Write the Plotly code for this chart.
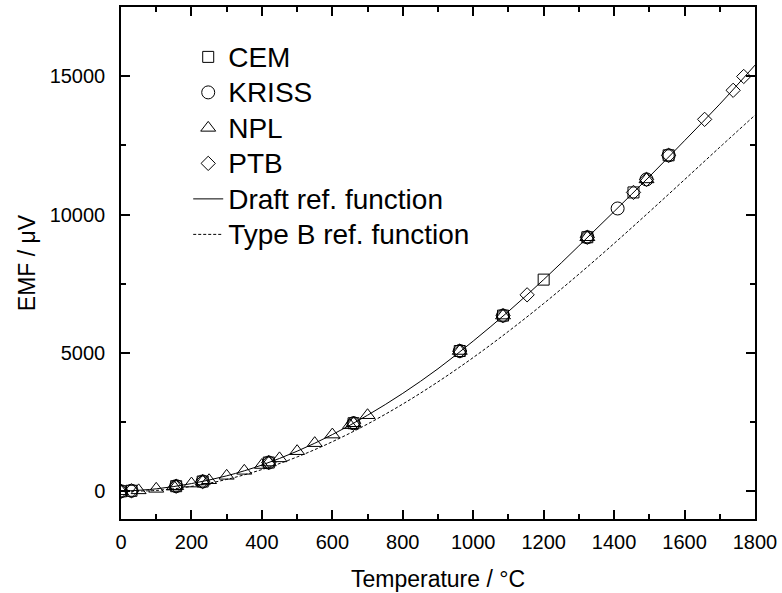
import plotly.graph_objects as go

# ---- data ----
cem_t = [0, 29.76, 156.6, 231.9, 419.5, 660.3, 961.8, 1084.6, 1200, 1324, 1455, 1554.8]
cem_v = [0, 20, 185, 355, 1040, 2460, 5070, 6350, 7650, 9180, 10800, 12140]

kriss_t = [0, 29.76, 156.6, 231.9, 419.5, 660.3, 961.8, 1084.6, 1324, 1410, 1492, 1554.8]
kriss_v = [0, 20, 185, 355, 1040, 2460, 5070, 6350, 9180, 10220, 11270, 12140]

npl_t = [0, 50, 100, 150, 156.6, 200, 231.9, 250, 300, 350, 400, 419.5, 450, 500, 550,
         600, 650, 660.3, 700, 961.8, 1084.6, 1324, 1492]
npl_v = [0, 35, 90, 170, 185, 280, 355, 400, 560, 740, 950, 1040, 1190, 1450, 1740,
         2050, 2390, 2460, 2750, 5070, 6350, 9180, 11270]

ptb_t = [0, 29.76, 156.6, 231.9, 419.5, 660.3, 961.8, 1084.6, 1153, 1324, 1455, 1492,
         1554.8, 1657, 1738, 1768]
ptb_v = [0, 20, 185, 355, 1040, 2460, 5070, 6350, 7100, 9180, 10800, 11270,
         12140, 13440, 14490, 14990]

ref_t = [0, 100, 200, 300, 400, 500, 600, 700, 800, 900, 1000, 1100, 1200, 1300,
         1400, 1500, 1600, 1700, 1800]
draft_v = [0, 90, 280, 560, 950, 1450, 2050, 2750, 3540, 4430, 5430, 6500, 7650, 8870,
           10110, 11370, 12670, 13990, 15400]
typeb_v = [0, 33, 178, 431, 787, 1242, 1792, 2431, 3154, 3957, 4834, 5780, 6786, 7848,
           8956, 10099, 11263, 12433, 13591]

x_ticks = [0, 200, 400, 600, 800, 1000, 1200, 1400, 1600, 1800]
y_ticks = [0, 5000, 10000, 15000]

FONT = "Arial, Liberation Sans, sans-serif"
LEG_TXT = '<span style="font-size:28px">{}</span>'

fig = go.Figure()

def add_markers(name, t, v, symbol, size):
    fig.add_trace(go.Scatter(
        x=t, y=v, mode="markers", name=LEG_TXT.format(name),
        marker=dict(symbol=symbol, size=size, color="black",
                    line=dict(color="black", width=1)),
    ))

add_markers("CEM", cem_t, cem_v, "square-open", 11)
add_markers("KRISS", kriss_t, kriss_v, "circle-open", 13)
add_markers("NPL", npl_t, npl_v, "triangle-up-open", 13)
add_markers("PTB", ptb_t, ptb_v, "diamond-open", 11)

fig.add_trace(go.Scatter(x=ref_t, y=draft_v, mode="lines",
                         name=LEG_TXT.format("Draft ref. function"),
                         line=dict(color="black", width=1, shape="spline")))
fig.add_trace(go.Scatter(x=ref_t, y=typeb_v, mode="lines",
                         name=LEG_TXT.format("Type B ref. function"),
                         line=dict(color="black", width=1, dash="3px,2px", shape="spline")))

axis_common = dict(
    showline=True, linecolor="black", linewidth=1.5, mirror="allticks",
    ticks="inside", ticklen=9, tickwidth=1.5, tickcolor="black",
    showgrid=False, zeroline=False,
    tickfont=dict(family=FONT, size=20, color="black"),
    ticklabeloverflow="allow",
)

fig.update_xaxes(
    range=[0, 1800], tickvals=x_ticks, ticktext=[str(v) for v in x_ticks],
    minor=dict(dtick=100, tick0=0, ticks="inside", ticklen=5, tickwidth=1.5, tickcolor="black"),
    title=dict(text="Temperature / °C", font=dict(family=FONT, size=23, color="black"), standoff=19),
    ticklabelstandoff=4,
    **axis_common,
)
fig.update_yaxes(
    range=[-1000, 17500], tickvals=y_ticks, ticktext=[str(v) for v in y_ticks],
    minor=dict(dtick=2500, tick0=0, ticks="inside", ticklen=5, tickwidth=1.5, tickcolor="black"),
    title=dict(text="EMF / μV", font=dict(family=FONT, size=23, color="black"), standoff=8),
    ticklabelstandoff=10,
    **axis_common,
)

fig.update_layout(
    width=782, height=593,
    margin=dict(l=121, r=27, t=7, b=74, autoexpand=False),
    paper_bgcolor="white", plot_bgcolor="white",
    font=dict(family=FONT, color="black"),
    showlegend=True,
    legend=dict(
        x=0.106, y=0.947, xanchor="left", yanchor="top",
        bgcolor="rgba(0,0,0,0)", borderwidth=0,
        font=dict(family=FONT, size=25, color="black"),
        tracegroupgap=0,
    ),
)

fig.write_html(
    "out.html",
    config={"displayModeBar": False},
    post_script="document.body.style.margin='0';document.body.style.overflow='hidden';",
)
